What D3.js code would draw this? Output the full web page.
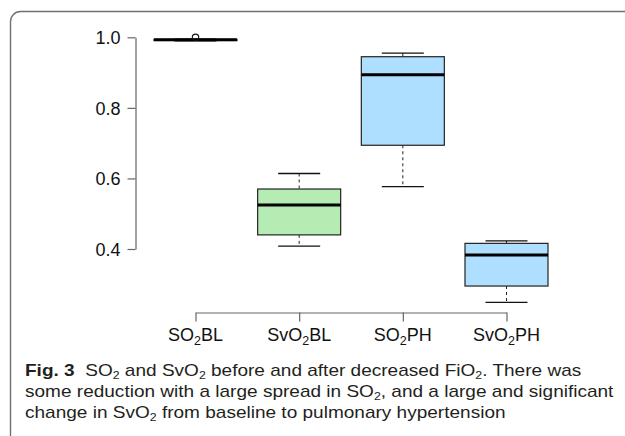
<!DOCTYPE html>
<html>
<head>
<meta charset="utf-8">
<script src="https://cdn.jsdelivr.net/npm/d3@7"></script>
<style>
  body { margin: 0; background: #fff; }
  svg { display: block; }
  .axis text { font-family: 'Liberation Sans', Arial, sans-serif; font-size: 18px; fill: #111; }
  .axis path, .axis line { stroke: #666; stroke-width: 1.2; }
  .caption { font-family: 'Liberation Sans', Arial, sans-serif; font-size: 17px; fill: #231f20; }
</style>
</head>
<body>
<svg id="chart" width="625" height="436"></svg>
<script>
// groups
const categories = ['SO2BL', 'SvO2BL', 'SO2PH', 'SvO2PH']
const lowerWhisker = [0.990, 0.408, 0.577, 0.249]
const q1 = [0.991, 0.440, 0.694, 0.295]
const median = [0.993, 0.525, 0.894, 0.383]
const q3 = [0.994, 0.570, 0.945, 0.416]
const upperWhisker = [0.995, 0.614, 0.955, 0.423]
const outliers = [[1.0], [], [], []]
const yTicks = [0.4, 0.6, 0.8, 1.0]

const boxFill = ['#b4ecb4', '#b4ecb4', '#aedfff', '#aedfff']

// labels with a subscript 2
const xLabelParts = [
  [['SO', ''], ['2', 'sub'], ['BL', '']],
  [['SvO', ''], ['2', 'sub'], ['BL', '']],
  [['SO', ''], ['2', 'sub'], ['PH', '']],
  [['SvO', ''], ['2', 'sub'], ['PH', '']],
]

const captionLines = [
  [['Fig. 3', 'bold'], ['\u00a0 SO', ''], ['2', 'sub'], [' and SvO', ''], ['2', 'sub'],
   [' before and after decreased FiO', ''], ['2', 'sub'], ['. There was', '']],
  [['some reduction with a large spread in SO', ''], ['2', 'sub'], [', and a large and significant', '']],
  [['change in SvO', ''], ['2', 'sub'], [' from baseline to pulmonary hypertension', '']],
]

const svg = d3.select('#chart')

// outer figure frame (runs off right and bottom)
svg.append('rect')
  .attr('x', 10.5)
  .attr('y', 11.5)
  .attr('width', 800)
  .attr('height', 600)
  .attr('rx', 10)
  .attr('fill', 'none')
  .attr('stroke', '#707070')
  .attr('stroke-width', 1.4)

const data = categories.map((c, i) => ({
  cat: c,
  lo: lowerWhisker[i],
  q1: q1[i],
  med: median[i],
  q3: q3[i],
  hi: upperWhisker[i],
  out: outliers[i],
  fill: boxFill[i],
  parts: xLabelParts[i],
}))

const x = d3.scalePoint()
  .domain(categories)
  .range([195.5, 506.5])

const y = d3.scaleLinear()
  .domain([0.4, 1.0])
  .range([249, 37.3])

const boxW = 83
const capW = 42

// y axis
svg.append('g')
  .attr('class', 'axis')
  .attr('transform', 'translate(135.5, 0)')
  .call(d3.axisLeft(y)
    .tickValues(yTicks)
    .tickFormat(d3.format('.1f'))
    .tickSize(8)
    .tickSizeOuter(0)
    .tickPadding(7))
  .call(g => g.selectAll('text').attr('dy', '0.36em'))

// x axis
svg.append('g')
  .attr('class', 'axis')
  .attr('transform', 'translate(0, 312.5)')
  .call(d3.axisBottom(x)
    .tickSize(9)
    .tickSizeOuter(0)
    .tickFormat(''))

function addParts(textSel, parts, subSize, shift) {
  parts.forEach(([t, kind], k) => {
    const prev = k > 0 ? parts[k - 1][1] : ''
    const ts = textSel.append('tspan').text(t)
    if (kind === 'sub') {
      ts.attr('font-size', subSize).attr('dy', shift)
    } else if (prev === 'sub') {
      ts.attr('dy', -shift)
    }
    if (kind === 'bold') ts.attr('font-weight', 'bold')
  })
}

data.forEach(d => {
  const t = svg.append('text')
    .attr('x', x(d.cat))
    .attr('y', 341)
    .attr('text-anchor', 'middle')
    .style('font-family', "'Liberation Sans', Arial, sans-serif")
    .style('font-size', '18px')
    .style('fill', '#111')
  addParts(t, d.parts, '12.5px', 4)
})

// boxes
const boxes = svg.append('g')
  .selectAll('g')
  .data(data)
  .join('g')

boxes.append('line')
  .attr('x1', d => x(d.cat))
  .attr('x2', d => x(d.cat))
  .attr('y1', d => y(d.hi))
  .attr('y2', d => y(d.q3))
  .attr('stroke', '#222')
  .attr('stroke-dasharray', '3,3')

boxes.append('line')
  .attr('x1', d => x(d.cat))
  .attr('x2', d => x(d.cat))
  .attr('y1', d => y(d.q1))
  .attr('y2', d => y(d.lo))
  .attr('stroke', '#222')
  .attr('stroke-dasharray', '3,3')

boxes.append('line')
  .attr('x1', d => x(d.cat) - capW / 2)
  .attr('x2', d => x(d.cat) + capW / 2)
  .attr('y1', d => y(d.hi))
  .attr('y2', d => y(d.hi))
  .attr('stroke', '#111')
  .attr('stroke-width', 1.3)

boxes.append('line')
  .attr('x1', d => x(d.cat) - capW / 2)
  .attr('x2', d => x(d.cat) + capW / 2)
  .attr('y1', d => y(d.lo))
  .attr('y2', d => y(d.lo))
  .attr('stroke', '#111')
  .attr('stroke-width', 1.3)

boxes.append('rect')
  .attr('x', d => x(d.cat) - boxW / 2)
  .attr('y', d => y(d.q3))
  .attr('width', boxW)
  .attr('height', d => y(d.q1) - y(d.q3))
  .attr('fill', d => d.fill)
  .attr('stroke', '#222')
  .attr('stroke-width', 1.2)

boxes.append('line')
  .attr('x1', d => x(d.cat) - boxW / 2)
  .attr('x2', d => x(d.cat) + boxW / 2)
  .attr('y1', d => y(d.med))
  .attr('y2', d => y(d.med))
  .attr('stroke', '#000')
  .attr('stroke-width', 3)

boxes.selectAll('circle')
  .data(d => d.out.map(v => ({ cat: d.cat, v })))
  .join('circle')
  .attr('cx', d => x(d.cat))
  .attr('cy', d => y(d.v))
  .attr('r', 3.2)
  .attr('fill', 'none')
  .attr('stroke', '#111')
  .attr('stroke-width', 1.1)

// caption, squeezed horizontally to the narrow journal face
const capG = svg.append('g')
const capTexts = captionLines.map((parts, i) => {
  const t = capG.append('text')
    .attr('class', 'caption')
    .attr('x', 0)
    .attr('y', 0)
    .attr('transform', `translate(25, ${376 + i * 21})`)
  addParts(t, parts, '11px', 3)
  return t
})
const naturalW = capTexts[1].node().getComputedTextLength()
const sx = 589 / naturalW
capTexts.forEach((t, i) => {
  t.attr('transform', `translate(25, ${376 + i * 21}) scale(${sx}, 1)`)
})
</script>
</body>
</html>
